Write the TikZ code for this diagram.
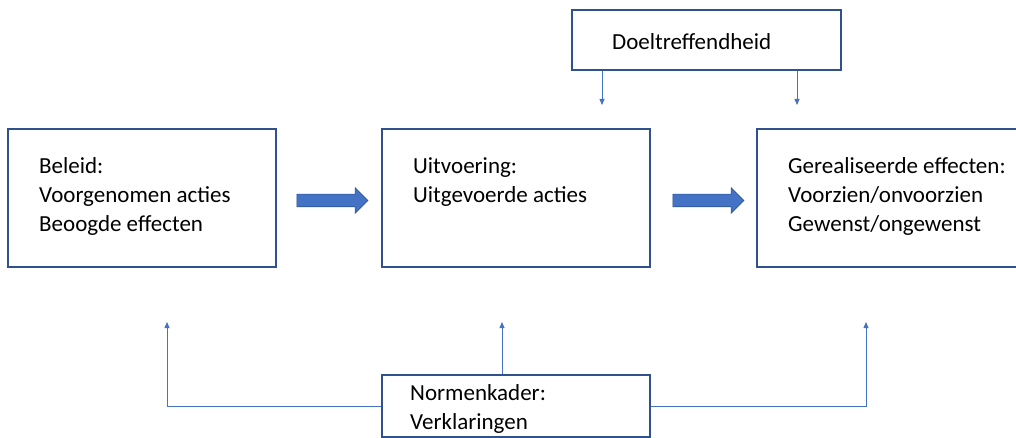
\documentclass[tikz,border=0pt]{standalone}
\usepackage{fontspec}
\setmainfont{Carlito}
\usetikzlibrary{arrows.meta, positioning, calc, shapes.arrows}

\definecolor{boxrand}{RGB}{47,82,143}
\definecolor{lijnblauw}{RGB}{68,114,196}

\begin{document}
\begin{tikzpicture}[x=1pt, y=-1pt,
        box/.style={draw=boxrand, line width=1.2pt, fill=white, minimum width=268pt, minimum height=138pt, inner sep=0pt},
        tekst/.style={align=left, inner sep=0pt, font=\fontsize{23}{29}\selectfont},
        dun/.style={draw=lijnblauw, line width=0.8pt, -{Triangle[width=5pt, length=6pt]}},
        blokpijl/.style={single arrow, draw=boxrand, fill=lijnblauw, line width=0.6pt, minimum height=71pt, minimum width=25pt, single arrow head extend=6.5pt, inner sep=0pt, text height=6pt, text depth=6pt}]
        % Canvas
        \clip (0,0) rectangle (1016,438);

        % Main boxes
        \node[box] (beleid) at (142,198) {};
        \node[box] (uitvoering) at (516,198) {};
        \node[box] (effecten) at (891,198) {};
        \node[box, minimum width=269pt, minimum height=60pt] (doel) at (706.5,40) {};
        \node[box, minimum height=62pt] (normen) at (516,406) {};

        % Texts in the boxes (base = last line)
        \node[tekst, anchor=base west] (tbeleid) at (39,232) {Beleid:\\Voorgenomen acties\\Beoogde effecten};
        \node[tekst, anchor=base west] (tuitvoering) at (413,203) {Uitvoering:\\Uitgevoerde acties};
        \node[tekst, anchor=base west] (teffecten) at (788,232) {Gerealiseerde effecten:\\Voorzien/onvoorzien\\Gewenst/ongewenst};
        \node[tekst, anchor=base west] (tdoel) at (612,50) {Doeltreffendheid};
        \node[tekst, anchor=base west] (tnormen) at (410,429) {Normenkader:\\Verklaringen};

        % Block arrows between the boxes
        \node[blokpijl, right=20pt of beleid, yshift=-2.5pt] (pijl1) {};
        \node[blokpijl, right=22pt of uitvoering, yshift=-2.5pt] (pijl2) {};

        % Free ends of the thin arrows
        \coordinate (d1) at (602,105);
        \coordinate (d2) at (797,105);
        \coordinate (n1) at (167,322);
        \coordinate (n2) at (502,322);
        \coordinate (n3) at (866,322);

        % Thin arrows
        \draw[dun] (doel.south -| d1) -- (d1);
        \draw[dun] (doel.south -| d2) -- (d2);
        \draw[dun] (normen.west) -| (n1);
        \draw[dun] (normen.north -| n2) -- (n2);
        \draw[dun] (normen.east) -| (n3);

    \end{tikzpicture}
\end{document}
